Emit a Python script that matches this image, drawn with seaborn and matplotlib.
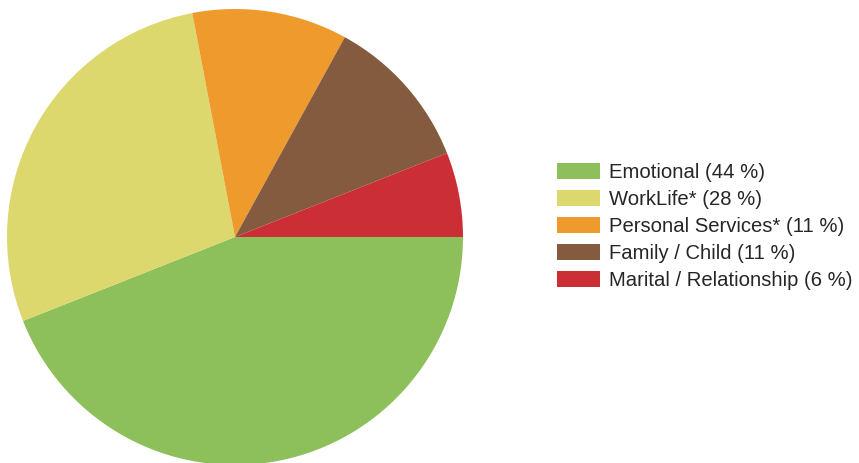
import matplotlib
matplotlib.use("Agg")
import matplotlib.pyplot as plt
import seaborn as sns

# data
categories = ["Emotional", "WorkLife*", "Personal Services*", "Family / Child", "Marital / Relationship"]
shares = [44, 28, 11, 11, 6]
colors = ["#8dbf5a", "#dcd86e", "#ee9a2c", "#845b3e", "#cc2e35"]

sns.set_theme(style="white")
plt.rcParams['font.family'] = ['Liberation Sans', 'DejaVu Sans']

W, H = 859, 463
fig = plt.figure(figsize=(W / 100, H / 100), dpi=100)
# pie axes placed in pixel coords (center ~ (235, 237), radius ~228)
cx, cy, r = 235, 237, 228
ax = fig.add_axes([(cx - r) / W, (H - cy - r) / H, 2 * r / W, 2 * r / H])

palette = sns.color_palette(colors)
wedges, _ = ax.pie(shares, colors=palette, startangle=0, counterclock=False,
                   radius=1.0, wedgeprops=dict(linewidth=0))
for w in wedges:
    w.set_clip_on(False)
ax.set_xlim(-1, 1)
ax.set_ylim(-1, 1)
ax.set_aspect('equal')
ax.axis('off')

labels = [f"{c} ({s} %)" for c, s in zip(categories, shares)]
fig.legend(wedges, labels, loc='upper left',
           bbox_to_anchor=(557 / W, 1 - 163 / H),
           frameon=False, fontsize=14.6,
           handlelength=2.1, handleheight=0.87,
           handletextpad=0.45, labelspacing=0.38,
           borderaxespad=0, borderpad=0)

fig.savefig("out.png", dpi=100)
